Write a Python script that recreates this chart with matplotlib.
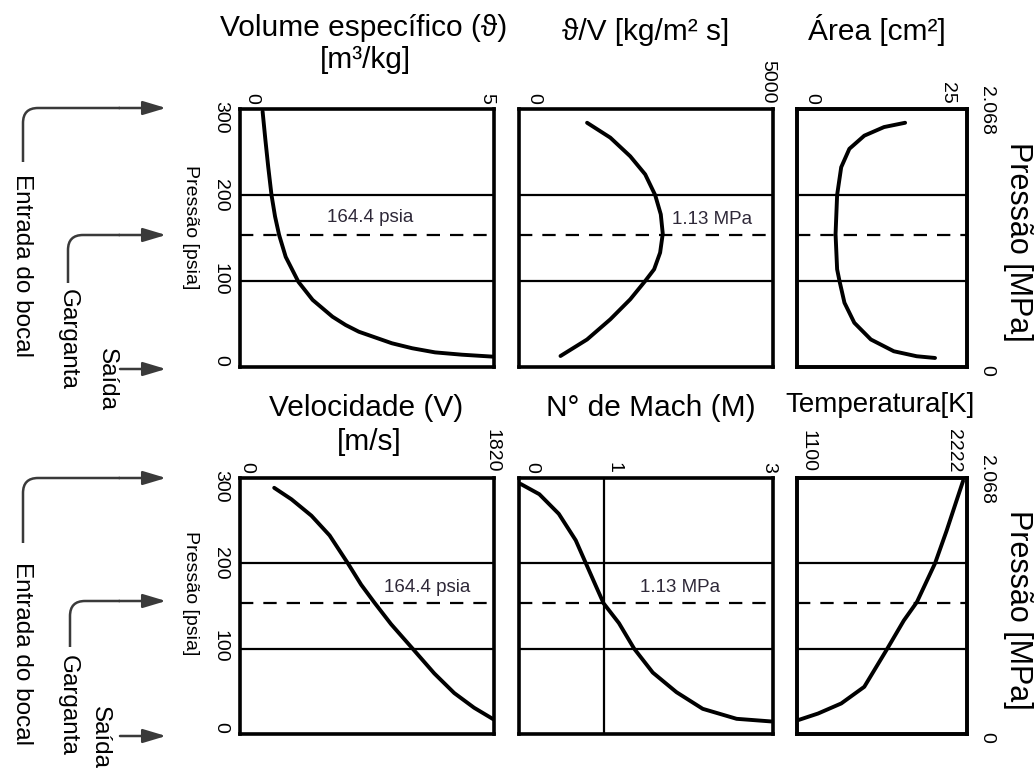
import matplotlib.pyplot as plt
from matplotlib.patches import FancyArrowPatch, PathPatch
from matplotlib.path import Path
from matplotlib.transforms import ScaledTranslation

plt.rcParams['font.family'] = ['Liberation Sans', 'DejaVu Sans']

W, H = 1034, 772

# pressure (psia) read along each curve, and the curve values
p_vol = [297, 264, 233, 200, 175, 153.5, 128, 99, 78, 58.5, 48.8, 41, 27.6, 21.8, 17, 14.3, 12]
vol = [0.445, 0.50, 0.555, 0.62, 0.69, 0.77, 0.90, 1.15, 1.43, 1.82, 2.08, 2.34, 2.99, 3.39, 3.84, 4.37, 4.99]

p_flux = [284, 266.7, 245, 224, 200, 177.5, 155, 133, 113.6, 100, 78.7, 55.4, 32, 12.8]
flux = [1340, 1797, 2190, 2484, 2680, 2791, 2830, 2778, 2660, 2484, 2190, 1797, 1340, 817]

p_area = [284, 279, 269, 253.7, 232.3, 200, 154.5, 113.6, 100, 74.7, 51.4, 32, 18.3, 12.5, 10.5]
area = [15.9, 12.8, 9.9, 7.7, 6.5, 5.9, 5.67, 5.9, 6.25, 6.98, 8.43, 10.86, 14.24, 17.6, 20.3]

p_vel = [288.5, 275, 255.8, 232.7, 200, 175, 153.8, 128.8, 100, 71, 48, 30.8, 17.3]
vel = [245, 369, 512, 642, 773, 868, 964, 1082, 1237, 1392, 1535, 1677, 1815]

p_mach = [293, 281, 258, 227, 200, 173, 153, 130, 100, 72, 49, 29.5, 17.8, 14.7]
mach = [0.02, 0.24, 0.47, 0.67, 0.79, 0.91, 1.0, 1.18, 1.36, 1.58, 1.86, 2.17, 2.57, 2.98]

p_temp = [16.3, 24, 35.8, 55.3, 100, 133, 154.5, 200, 238, 273, 296.5]
temp = [1108, 1239, 1392, 1544, 1696, 1805, 1891, 2011, 2087, 2152, 2196]

throat_psia = 154
grid_psia = [100, 200]
psia_ticks = [0, 100, 200, 300]
mpa_ticks = [0, 2.068]
mpa_labels = ['0', '2.068']

fig = plt.figure(figsize=(W / 100, H / 100), dpi=100)


def px_axes(x0, y0, x1, y1):
    return fig.add_axes([x0 / W, 1 - y1 / H, (x1 - x0) / W, (y1 - y0) / H])


def fx(x, y):
    return (x / W, 1 - y / H)


def nudge(label, dx=0, dy=0):
    # shift a tick label by screen pixels (dy > 0 moves it down)
    label.set_transform(label.get_transform() + ScaledTranslation(dx / 100, -dy / 100, fig.dpi_scale_trans))


def panel(box, xlim, xticks, xlabels, px, py, xshift, left=False, right=False):
    ax = px_axes(*box)
    ax.set_xlim(*xlim)
    ax.set_ylim(0, 300)
    for s in ax.spines.values():
        s.set_linewidth(2.6)
    ax.xaxis.tick_top()
    ax.set_xticks(xticks)
    ax.set_xticklabels(xlabels, rotation=-90, fontsize=14, va='bottom', ha='center')
    ax.tick_params(axis='x', length=0, pad=4)
    for t, d in zip(ax.xaxis.get_major_ticks(), xshift):
        nudge(t.label2, dx=d)
    if left:
        ax.set_yticks(psia_ticks)
        ax.set_yticklabels([str(t) for t in psia_ticks], rotation=-90, fontsize=14, va='center')
        ax.tick_params(axis='y', length=0, pad=8)
        for t, d in zip(ax.yaxis.get_major_ticks(), [-7, -2, 0, 8]):
            nudge(t.label1, dy=d)
    else:
        ax.set_yticks([])
    for g in grid_psia:
        ax.axhline(g, color='black', lw=1.6)
    ax.axhline(throat_psia, color='black', lw=1.6, linestyle=(0, (6, 4.5)))
    ax.plot(px, py, color='black', lw=2.8, solid_capstyle='round', solid_joinstyle='round')
    if right:
        ax2 = ax.twinx()
        ax2.set_ylim(0, 2.068)
        ax2.set_yticks(mpa_ticks)
        ax2.set_yticklabels(mpa_labels, rotation=-90, fontsize=14, va='center')
        ax2.tick_params(axis='y', length=0, pad=8)
        for t, d in zip(ax2.yaxis.get_major_ticks(), [3, 1]):
            nudge(t.label2, dy=d)
        for s in ax2.spines.values():
            s.set_linewidth(2.6)
    return ax


# top row
panel((240, 109, 494, 367), (0, 5), [0, 5], ['0', '5'], vol, p_vol, [12, -7], left=True)
panel((519, 109, 773, 367), (0, 5000), [0, 5000], ['0', '5000'], flux, p_flux, [15, -5])
panel((797, 109, 967, 367), (0, 25), [0, 25], ['0', '25'], area, p_area, [15, -19], right=True)

# bottom row
panel((240, 478, 494, 734), (0, 1820), [0, 1820], ['0', '1820'], vel, p_vel, [7, -2], left=True)
axm = panel((519, 478, 773, 734), (0, 3), [0, 1, 3], ['0', '1', '3'], mach, p_mach, [13, 10, -4])
axm.axvline(1, color='black', lw=1.6)
panel((797, 478, 967, 734), (1100, 2222), [1100, 2222], ['1100', '2222'], temp, p_temp, [11, -13], right=True)

# titles
tk = dict(ha='center', va='center', fontsize=21.5)
fig.text(*fx(364, 28), 'Volume específico (ϑ)', **tk)
fig.text(*fx(365, 60), '[m³/kg]', **tk)
fig.text(*fx(646, 32), 'ϑ/V [kg/m² s]', **tk)
fig.text(*fx(877, 30), 'Área [cm²]', **tk)
fig.text(*fx(366, 408), 'Velocidade (V)', **tk)
fig.text(*fx(369, 442), '[m/s]', **tk)
fig.text(*fx(651, 408), 'N° de Mach (M)', **tk)
fig.text(*fx(880, 405), 'Temperatura[K]', ha='center', va='center', fontsize=20)

# throat labels
lk = dict(ha='center', va='center', fontsize=13.5, color='#2e2838')
fig.text(*fx(370, 217), '164.4 psia', **lk)
fig.text(*fx(427, 587), '164.4 psia', **lk)
fig.text(*fx(712, 220), '1.13 MPa', **lk)
fig.text(*fx(680, 588), '1.13 MPa', **lk)

# axis names
rk = dict(ha='center', va='center', rotation=-90)
fig.text(*fx(190, 227), 'Pressão [psia]', fontsize=14, **rk)
fig.text(*fx(190, 593), 'Pressão [psia]', fontsize=14, **rk)
fig.text(*fx(1018, 242), 'Pressão [MPa]', fontsize=22, **rk)
fig.text(*fx(1018, 610), 'Pressão [MPa]', fontsize=22, **rk)

# nozzle station labels and arrows
for ent_y, gar_y, sai_x, sai_y in [(265, 339, 107, 380), (654, 705, 100, 737)]:
    fig.text(*fx(22, ent_y), 'Entrada do bocal', fontsize=17.5, **rk)
    fig.text(*fx(68, gar_y), 'Garganta', fontsize=17.5, **rk)
    fig.text(*fx(sai_x, sai_y), 'Saída', fontsize=17.5, **rk)

arrow_color = '#3a3a3a'
head = '-|>,head_length=1.0,head_width=0.3'
legs = [
    # (x of vertical leg, y where it starts, y of horizontal leg)
    (23, 162, 108), (68, 283, 235),
    (23, 543, 478), (70, 647, 601),
]
for xv, yb, yh in legs:
    r = 15
    verts = [fx(xv, yb), fx(xv, yh + r), fx(xv, yh), fx(xv + r, yh), fx(120, yh)]
    codes = [Path.MOVETO, Path.LINETO, Path.CURVE3, Path.CURVE3, Path.LINETO]
    fig.add_artist(PathPatch(Path(verts, codes), fill=False, lw=1.8, ec=arrow_color,
                             transform=fig.transFigure))
    fig.add_artist(FancyArrowPatch(fx(119, yh), fx(166, yh), arrowstyle=head,
                                   mutation_scale=14, lw=1.8, color=arrow_color, shrinkA=0, shrinkB=0,
                                   transform=fig.transFigure))
for ys in [369, 736]:
    fig.add_artist(FancyArrowPatch(fx(120, ys), fx(166, ys), arrowstyle=head,
                                   mutation_scale=14, lw=1.8, color=arrow_color, shrinkA=0, shrinkB=0,
                                   transform=fig.transFigure))

fig.savefig('out.png', dpi=100, facecolor='white')
